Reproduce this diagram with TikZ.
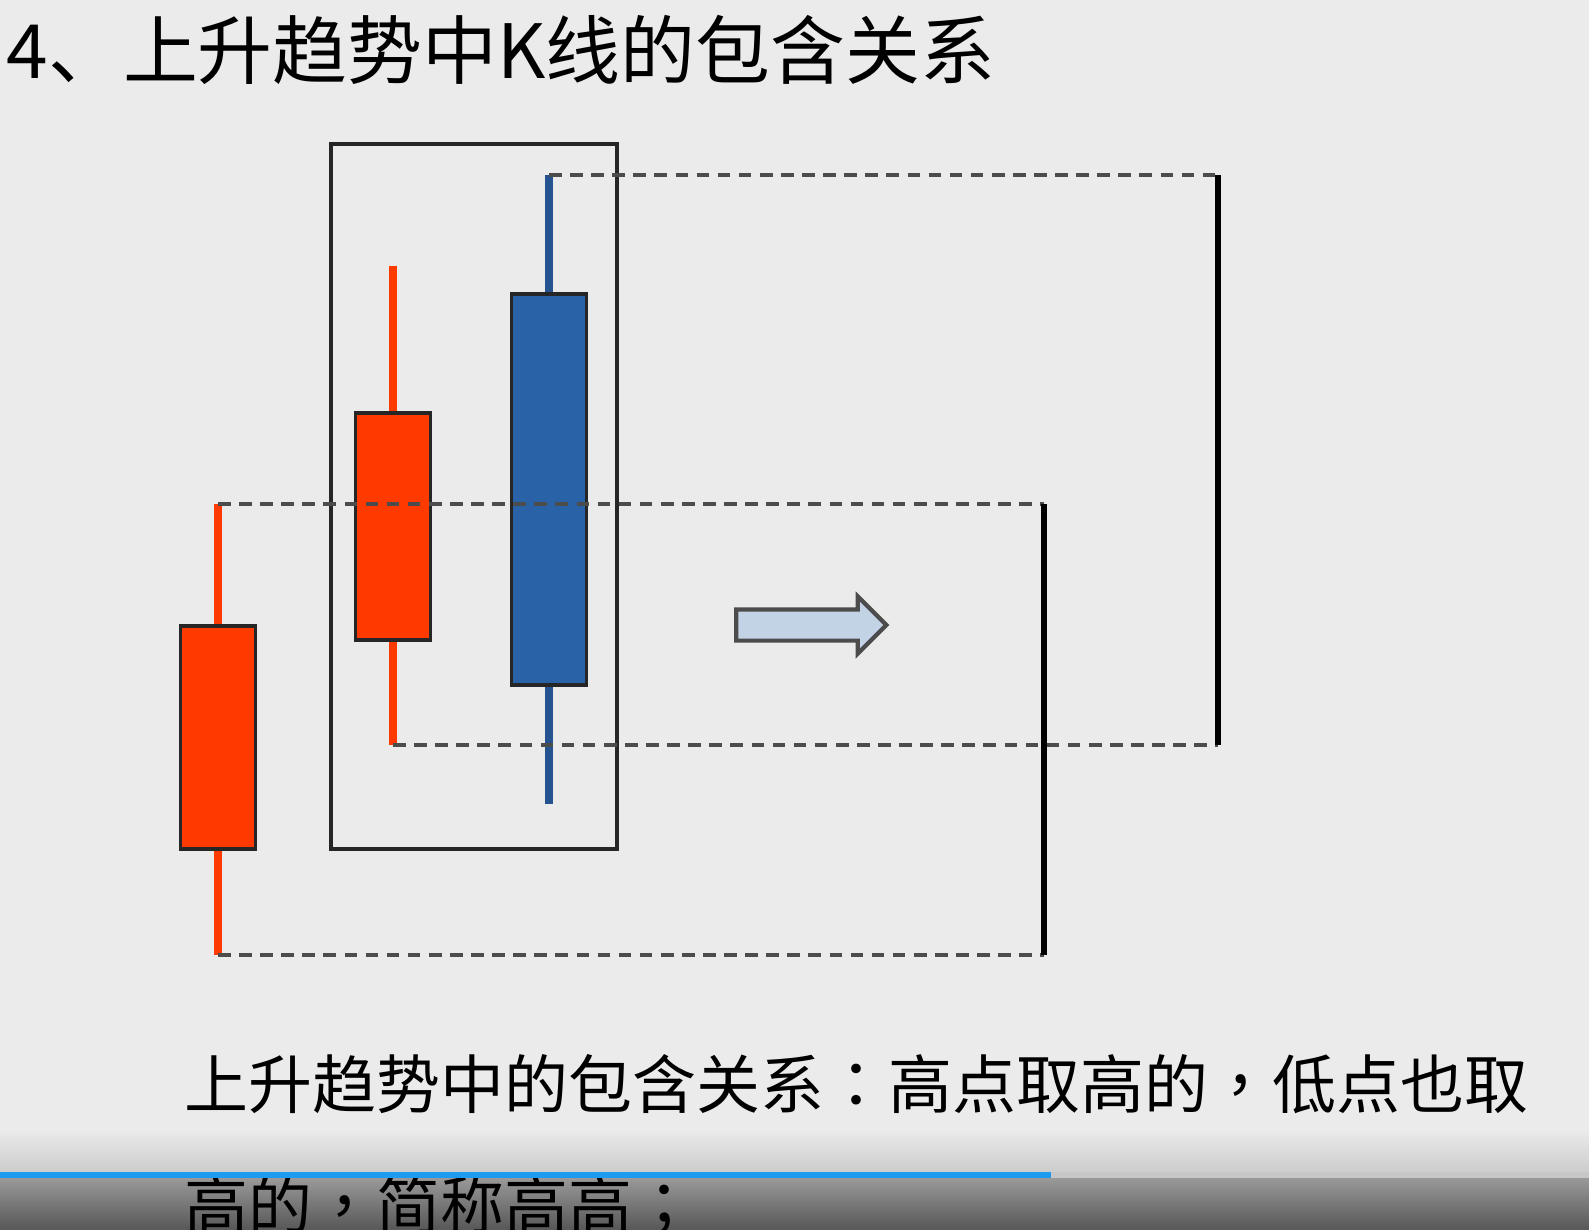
\documentclass[tikz,border=0pt]{standalone}
\usepackage{fontspec}
\setmainfont{Noto Sans CJK SC}
\newfontfamily\tcpunct{Noto Sans CJK TC}
\usetikzlibrary{shapes.arrows}
\definecolor{bg}{HTML}{EBEBEB}
\definecolor{kred}{HTML}{FF3A00}
\definecolor{kblue}{HTML}{2A62A8}
\definecolor{arrowfill}{HTML}{C3D3E6}
\definecolor{barblue}{HTML}{1E9BF0}
\begin{document}
\begin{tikzpicture}[
  redbody/.style={draw=black!85, fill=kred, line width=1.1pt, inner sep=0, minimum width=0.75cm},
  bluebody/.style={draw=black!85, fill=kblue, line width=1.1pt, inner sep=0, minimum width=0.75cm},
  redwick/.style={kred, line width=2.4pt},
  bluewick/.style={kblue!85!black, line width=2.4pt},
  guide/.style={black!70, dash pattern=on 3.6pt off 2.4pt, line width=1pt},
  rangebar/.style={black, line width=1.6pt},
  txt/.style={anchor=west, inner sep=0, font=\fontsize{18.2pt}{22pt}\selectfont}]
    \fill[bg] (0,0) rectangle (15.89,-12.29);
    \useasboundingbox (0,0) rectangle (15.89,-12.29);
    \node[anchor=west, inner sep=0, font=\fontsize{21.3pt}{26pt}\selectfont] (title) at (0.06,-0.50) {4、上升趋势中K线的包含关系};
    % candles
    \coordinate (c1hi) at (2.18,-5.04);
    \coordinate (c1lo) at (2.18,-9.55);
    \coordinate (c2hi) at (3.93,-2.66);
    \coordinate (c2lo) at (3.93,-7.45);
    \coordinate (c3hi) at (5.49,-1.75);
    \coordinate (c3lo) at (5.49,-8.04);
    \draw[redwick] (c1hi) -- (c1lo);
    \draw[redwick] (c2hi) -- (c2lo);
    \draw[bluewick] (c3hi) -- (c3lo);
    \node[redbody, minimum height=2.23cm] (c1) at (2.18,-7.375) {};
    \node[redbody, minimum height=2.27cm] (c2) at (3.93,-5.265) {};
    \node[bluebody, minimum height=3.91cm] (c3) at (5.49,-4.895) {};
    \node[draw=black!85, line width=1pt, inner sep=0, minimum width=2.86cm, minimum height=7.05cm] (pair) at (4.74,-4.965) {};
    % ranges
    \coordinate (r1hi) at (10.44,-5.04);
    \coordinate (r1lo) at (10.44,-9.55);
    \coordinate (r2hi) at (12.18,-1.75);
    \coordinate (r2lo) at (12.18,-7.45);
    \draw[guide] (c1hi) -- (r1hi);
    \draw[guide] (c1lo) -- (r1lo);
    \draw[guide] (c3hi) -- (r2hi);
    \draw[guide] (c2lo) -- (r2lo);
    \draw[rangebar] (r1hi) -- (r1lo);
    \draw[rangebar] (r2hi) -- (r2lo);
    \node[single arrow, draw=black!70, fill=arrowfill, line width=1.2pt, inner xsep=0, inner ysep=0.135cm,
          minimum height=1.50cm, single arrow head extend=0.13cm] (move) at (8.035,-6.25) {};
    \node[txt] (line1) at (1.84,-10.84) {上升趋势中的包含关系{\tcpunct ：}高点取高的{\tcpunct ，}低点也取};
    % player bar
    \shade[top color=bg, bottom color=black!22, opacity=0.9] (0,-11.30) rectangle (15.89,-11.75);
    \shade[top color=black!45, bottom color=black!78, opacity=0.82] (0,-11.75) rectangle (15.89,-12.29);
    \node[txt] (line2) at (1.84,-12.06) {高的{\tcpunct ，}简称高高{\tcpunct ；}};
    \draw[black!22, line width=1.6pt] (10.51,-11.75) -- (15.89,-11.75);
    \draw[barblue, line width=1.6pt] (0,-11.75) -- (10.51,-11.75);
\end{tikzpicture}
\end{document}
